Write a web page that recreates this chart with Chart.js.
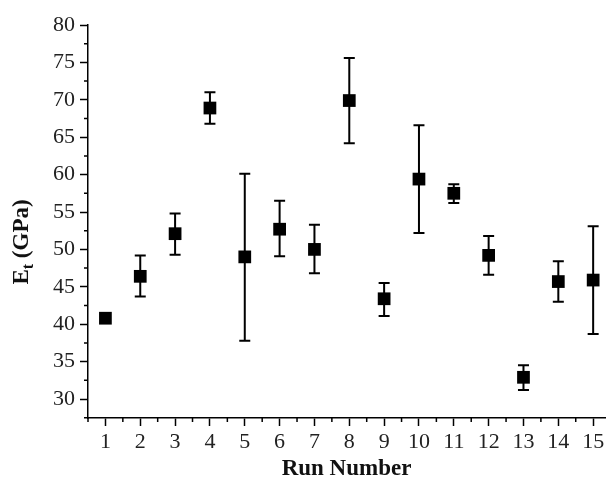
<!DOCTYPE html>
<html lang="en">
<head>
<meta charset="UTF-8">
<title>Et per run</title>
<script src="https://cdn.jsdelivr.net/npm/chart.js@4.4.0/dist/chart.umd.min.js"></script>
<style>
  body { margin: 0; background: #fff; }
  #wrap { width: 614px; height: 482px; }
</style>
</head>
<body>
<div id="wrap"><canvas id="chart" width="614" height="482"></canvas></div>
<script>
// values
const runs = [1, 2, 3, 4, 5, 6, 7, 8, 9, 10, 11, 12, 13, 14, 15];
const modulus = [40.8, 46.4, 52.1, 68.9, 49.0, 52.7, 50.0, 69.9, 43.4, 59.4, 57.5, 49.2, 32.9, 45.7, 45.9];
const errHigh = [41.3, 49.2, 54.8, 71.0, 60.1, 56.5, 53.3, 75.6, 45.5, 66.6, 58.7, 51.8, 34.5, 48.4, 53.1];
const errLow  = [40.3, 43.7, 49.3, 66.8, 37.8, 49.1, 46.8, 64.2, 41.1, 52.2, 56.2, 46.6, 31.2, 43.0, 38.7];
const yTitle = ['E', 't', ' (GPa)'];
const xTitle = 'Run Number';

const serif = "'Liberation Serif', 'Times New Roman', serif";

// error bars, drawn under the squares
const errorBars = {
  id: 'errorBars',
  beforeDatasetsDraw(chart) {
    const ctx = chart.ctx, xs = chart.scales.x, ys = chart.scales.y;
    ctx.save();
    ctx.strokeStyle = '#000';
    ctx.lineWidth = 2;
    runs.forEach((r, i) => {
      const px = xs.getPixelForValue(r);
      const top = ys.getPixelForValue(errHigh[i]);
      const bot = ys.getPixelForValue(errLow[i]);
      ctx.beginPath();
      ctx.moveTo(px, top); ctx.lineTo(px, bot);
      ctx.moveTo(px - 5.5, top); ctx.lineTo(px + 5.5, top);
      ctx.moveTo(px - 5.5, bot); ctx.lineTo(px + 5.5, bot);
      ctx.stroke();
    });
    ctx.restore();
  }
};

// minor ticks + axis titles
const extras = {
  id: 'extras',
  afterDraw(chart) {
    const ctx = chart.ctx, xs = chart.scales.x, ys = chart.scales.y;
    const a = chart.chartArea;
    ctx.save();
    ctx.strokeStyle = '#000';
    ctx.lineWidth = 1.5;
    ctx.beginPath();
    for (let v = 27.5; v <= 80; v += 5) {
      const py = ys.getPixelForValue(v);
      if (py < a.top - 1 || py > a.bottom + 1) continue;
      ctx.moveTo(a.left - 4, py); ctx.lineTo(a.left, py);
    }
    for (let v = 0.5; v <= 15.5; v += 1) {
      const px = xs.getPixelForValue(v);
      if (px < a.left - 1 || px > a.right + 1) continue;
      ctx.moveTo(px, a.bottom); ctx.lineTo(px, a.bottom + 4);
    }
    ctx.stroke();

    ctx.fillStyle = '#111';
    // x title
    ctx.font = 'bold 23px ' + serif;
    ctx.textAlign = 'center';
    ctx.textBaseline = 'alphabetic';
    ctx.fillText(xTitle, (a.left + a.right) / 2, 475);

    // y title with subscript
    ctx.translate(22, 242);
    ctx.rotate(-Math.PI / 2);
    const big = 'bold 23px ' + serif, small = 'bold 16px ' + serif;
    ctx.font = big; const w1 = ctx.measureText(yTitle[0]).width;
    ctx.font = small; const w2 = ctx.measureText(yTitle[1]).width;
    ctx.font = big; const w3 = ctx.measureText(yTitle[2]).width;
    let x0 = -(w1 + w2 + w3) / 2;
    ctx.textAlign = 'left';
    ctx.textBaseline = 'middle';
    ctx.font = big; ctx.fillText(yTitle[0], x0, 0);
    ctx.font = small; ctx.fillText(yTitle[1], x0 + w1, 7);
    ctx.font = big; ctx.fillText(yTitle[2], x0 + w1 + w2, 0);
    ctx.restore();
  }
};

const ctx = document.getElementById('chart').getContext('2d');
new Chart(ctx, {
  type: 'scatter',
  data: {
    datasets: [{
      data: runs.map((r, i) => ({ x: r, y: modulus[i] })),
      pointStyle: 'rect',
      pointRadius: 9,
      pointHoverRadius: 9,
      backgroundColor: '#000',
      borderColor: '#000',
      borderWidth: 0
    }]
  },
  options: {
    responsive: false,
    animation: false,
    clip: false,
    layout: { padding: { top: 25, right: 0, left: 0, bottom: 0 } },
    plugins: { legend: { display: false }, tooltip: { enabled: false } },
    scales: {
      x: {
        type: 'linear',
        min: 0.5,
        max: 15.34,
        afterFit(s) { s.height = 64; },
        border: { color: '#000', width: 1.5 },
        grid: { drawOnChartArea: false, drawTicks: true, tickLength: 8, tickColor: '#000', tickWidth: 1.5 },
        ticks: {
          stepSize: 1,
          includeBounds: false,
          autoSkip: false,
          maxRotation: 0,
          padding: 3,
          color: '#222',
          font: { family: serif, size: 22 }
        }
      },
      y: {
        min: 27.46,
        max: 80,
        afterFit(s) { s.width = 88; },
        border: { color: '#000', width: 1.5 },
        grid: { drawOnChartArea: false, drawTicks: true, tickLength: 8, tickColor: '#000', tickWidth: 1.5 },
        ticks: {
          stepSize: 5,
          includeBounds: false,
          padding: 5,
          color: '#222',
          font: { family: serif, size: 22 }
        }
      }
    }
  },
  plugins: [errorBars, extras]
});
</script>
</body>
</html>
